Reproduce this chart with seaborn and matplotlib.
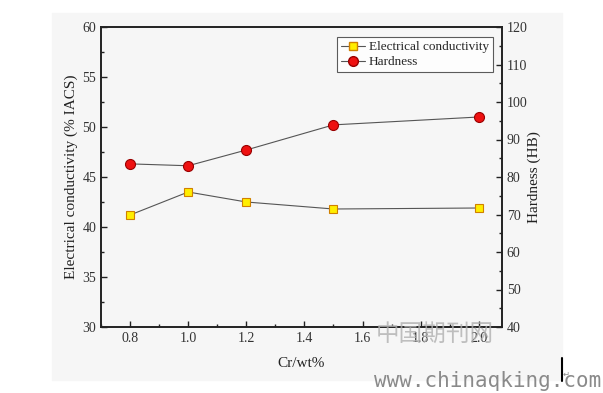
import pandas as pd
import seaborn as sns
import matplotlib.pyplot as plt
from matplotlib.ticker import MultipleLocator
from matplotlib.lines import Line2D

# data
cr = [0.8, 1.0, 1.2, 1.5, 2.0]
conductivity = [41.2, 43.5, 42.5, 41.8, 41.9]
hardness = [83.5, 83.0, 87.2, 93.9, 96.0]

df = pd.DataFrame({'cr': cr, 'ec': conductivity, 'hb': hardness})

sns.set_style('ticks')
plt.rcParams['font.family'] = ['Liberation Serif', 'DejaVu Serif']
plt.rcParams['xtick.direction'] = 'in'
plt.rcParams['ytick.direction'] = 'in'

fig = plt.figure(figsize=(6.03, 3.93), dpi=100)
# grey page behind the plot
bg = plt.Rectangle((52 / 603, 13 / 393), 510 / 603, 367 / 393,
                   transform=fig.transFigure, color='#f6f6f6', zorder=-10)
fig.add_artist(bg)
ax = fig.add_axes([101 / 603, 66 / 393, 401 / 603, 300 / 393])
ax.set_facecolor('none')
ax2 = ax.twinx()

sns.lineplot(data=df, x='cr', y='ec', ax=ax, color='#555555', lw=0.8,
             marker='s', markersize=6, markerfacecolor='#ffee00',
             markeredgecolor='#d08000', markeredgewidth=0.8)
sns.lineplot(data=df, x='cr', y='hb', ax=ax2, color='#555555', lw=0.8,
             marker='o', markersize=7.2, markerfacecolor='#ee1111',
             markeredgecolor='#990000', markeredgewidth=0.8)

ax.set_xlim(0.7, 2.08)
ax.set_ylim(30, 60)
ax2.set_ylim(40, 120)
ax.xaxis.set_major_locator(MultipleLocator(0.2))
ax.xaxis.set_minor_locator(MultipleLocator(0.1))
ax.yaxis.set_major_locator(MultipleLocator(5))
ax.yaxis.set_minor_locator(MultipleLocator(2.5))
ax2.yaxis.set_major_locator(MultipleLocator(10))
ax2.yaxis.set_minor_locator(MultipleLocator(5))
ax.xaxis.set_major_formatter(lambda v, p: f'{v:.1f}')

for a in (ax, ax2):
    for s in a.spines.values():
        s.set_linewidth(1.2)
        s.set_color('#222222')
    a.tick_params(which='major', length=4, width=1, labelsize=10, colors='#222222', labelcolor='#333333')
    a.tick_params(which='minor', length=2, width=1, colors='#222222')
ax.tick_params(axis='x', which='both', top=False)
ax.tick_params(axis='y', which='both', right=False)

ax.set_xlabel('Cr/wt%', fontsize=11, color='#222222', labelpad=9)
ax.set_ylabel('Electrical conductivity (% IACS)', fontsize=11, color='#222222', labelpad=3)
ax2.set_ylabel('Hardness (HB)', fontsize=11, color='#222222', labelpad=0)

handles = [
    Line2D([], [], color='#555555', lw=0.8, marker='s', markersize=6,
           markerfacecolor='#ffee00', markeredgecolor='#d08000'),
    Line2D([], [], color='#555555', lw=0.8, marker='o', markersize=7,
           markerfacecolor='#ee1111', markeredgecolor='#990000'),
]
leg = ax2.legend(handles, ['Electrical conductivity', 'Hardness'], loc='upper right',
                 bbox_to_anchor=(0.977, 0.966), fontsize=9.5, frameon=True, fancybox=False,
                 edgecolor='#333333', handlelength=1.8, handletextpad=0.3,
                 borderpad=0.3, labelspacing=0.2, borderaxespad=0)
leg.get_frame().set_linewidth(0.8)
leg.get_frame().set_facecolor('white')

# site watermark
fig.text(435 / 603, 1 - 334 / 393, '中国期刊网', fontsize=17, color='#b0b0b0', alpha=0.8,
         ha='center', va='center', family=['Noto Sans CJK SC', 'DejaVu Sans'])
fig.text(488 / 603, 1 - 381 / 393, 'www.chinaqking.com', fontsize=15, color='#8a8a8a',
         ha='center', va='center', family=['DejaVu Sans Mono', 'DejaVu Sans'])
fig.add_artist(Line2D([562 / 603, 562 / 603], [1 - 358 / 393, 1 - 381 / 393],
                      transform=fig.transFigure, color='black', lw=1.5))
fig.text(566 / 603, 1 - 374 / 393, '↵', fontsize=6, color='#888888',
         ha='center', va='center', family=['DejaVu Sans'])

fig.savefig('out.png', dpi=100)
